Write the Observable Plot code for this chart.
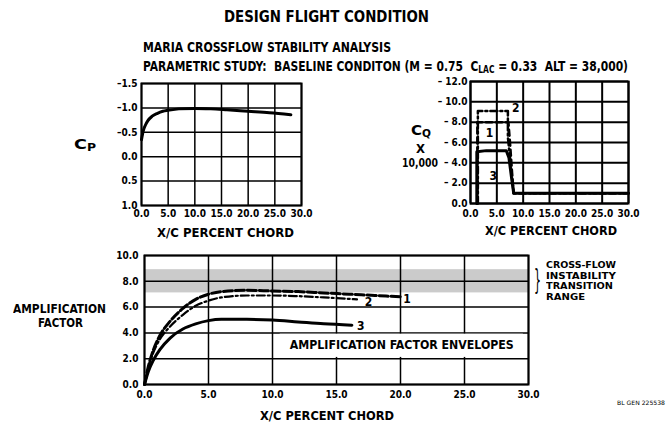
<!DOCTYPE html>
<html><head><meta charset="utf-8">
<script src="https://cdn.jsdelivr.net/npm/d3@7"></script>
<script src="https://cdn.jsdelivr.net/npm/@observablehq/plot@0.6"></script>
<style>
body{margin:0;background:#fff;}
#wrap{position:relative;width:667px;height:428px;overflow:hidden;background:#fff;color:#000;
 font-family:"Liberation Sans Narrow","DejaVu Sans Condensed","Liberation Sans",Arial,sans-serif;font-weight:bold;}
.t{position:absolute;white-space:nowrap;line-height:1;transform-origin:0 50%;}
.t sub{font-size:70%;vertical-align:-0.25em;line-height:0;}
.p{position:absolute;}
</style></head><body><div id="wrap"></div>
<script>
// ---------- data ----------
const xTicks = [0, 5, 10, 15, 20, 25, 30];
const cpTicks = [-1.5, -1.0, -0.5, 0.0, 0.5, 1.0];
const cqTicks = [-12, -10, -8, -6, -4, -2, 0];
const ampTicks = [0, 2, 4, 6, 8, 10];

// Cp distribution
const cpX = [0, 0.3, 0.7, 1.2, 2, 3, 4, 5, 7, 10, 13, 16, 20, 24, 28];
const cpY = [-0.35, -0.52, -0.64, -0.74, -0.83, -0.89, -0.93, -0.95, -0.98, -0.99, -0.98, -0.96, -0.93, -0.9, -0.86];

// Suction CQ x 10,000 (step distributions)
const cq1X = [1.3, 1.3, 7.2, 7.5, 7.9, 8.2, 30];
const cq1Y = [0, -8.0, -8.0, -6.0, -3.0, -1.0, -1.0];
const cq2X = [1.4, 1.4, 7.1, 7.1, 7.6, 8.2, 30];
const cq2Y = [0, -9.1, -9.1, -6.5, -4.0, -1.0, -1.0];
const cq3X = [1.2, 1.2, 3.0, 6.8, 7.3, 7.8, 8.2, 30];
const cq3Y = [0, -5.1, -5.2, -5.2, -4.5, -2.5, -1.0, -1.0];
const cqLabels = [{x: 8.6, y: -9.4, t: "2"}, {x: 3.6, y: -6.9, t: "1"}, {x: 4.3, y: -2.7, t: "3"}];

// Amplification factor envelopes
const amp1X = [0, 0.3, 0.7, 1.2, 2, 3, 4, 5, 6, 8, 10, 12, 14, 16, 18, 20];
const amp1Y = [0, 1.4, 2.7, 3.8, 4.9, 5.9, 6.6, 7.0, 7.2, 7.3, 7.25, 7.2, 7.1, 7.0, 6.9, 6.8];
const amp2X = [0, 0.3, 0.7, 1.2, 2, 3, 4, 5, 6, 8, 10, 12, 14, 16.6];
const amp2Y = [0, 1.3, 2.5, 3.5, 4.5, 5.4, 6.1, 6.5, 6.75, 6.9, 6.9, 6.85, 6.75, 6.6];
const amp3X = [0, 0.3, 0.7, 1.2, 2, 3, 4, 5, 6, 8, 10, 12, 14, 16.2];
const amp3Y = [0, 1.0, 1.9, 2.7, 3.6, 4.3, 4.7, 4.95, 5.05, 5.05, 5.0, 4.85, 4.7, 4.6];
const ampLabels = [{x: 20.5, y: 6.6, t: "1"}, {x: 17.5, y: 6.4, t: "2"}, {x: 16.9, y: 4.5, t: "3"}];
const band = [{x1: 0, x2: 30, y1: 7.1, y2: 8.9}];

// ---------- helpers ----------
const FONT = '"Liberation Sans Narrow","DejaVu Sans Condensed","Liberation Sans",Arial,sans-serif';
const zip = (xs, ys) => xs.map((x, i) => ({x, y: ys[i]}));
const fx = d => d.toFixed(1);
const fneg = d => d < 0 ? "\u2013" + Math.abs(d).toFixed(1) : d.toFixed(1);
const fneg2 = d => d < 0 ? "\u2013 " + Math.abs(d).toFixed(1) : d.toFixed(1);
const style = {fontFamily: FONT, fontWeight: "bold", fontSize: "10px", background: "transparent", color: "black", overflow: "visible"};
const wrap = document.getElementById("wrap");
function place(svg, left, top) { svg.classList.add("p"); svg.style.left = left + "px"; svg.style.top = top + "px"; wrap.appendChild(svg); }
function text(html, left, cy, fs, w, extra) {
  const d = document.createElement("div"); d.className = "t"; d.innerHTML = html;
  d.style.left = left + "px"; d.style.top = (cy - 0.48 * fs) + "px"; d.style.fontSize = fs + "px";
  if (extra) Object.assign(d.style, extra);
  if (w) d.dataset.w = w; wrap.appendChild(d); return d;
}
const grid = {stroke: "black", strokeOpacity: 1, strokeWidth: 1.5};

// ---------- panel 1: Cp ----------
place(Plot.plot({
  width: 310, height: 160, marginLeft: 141, marginRight: 9, marginTop: 13, marginBottom: 25, style,
  x: {domain: [0, 30], ticks: xTicks, tickFormat: fx, tickSize: 0, tickPadding: 4, label: null},
  y: {domain: [1.0, -1.5], ticks: cpTicks, tickFormat: fneg, tickSize: 0, tickPadding: 4, label: null},
  marks: [
    Plot.ruleX(xTicks, grid),
    Plot.ruleY(cpTicks, grid),
    Plot.line(zip(cpX, cpY), {x: "x", y: "y", stroke: "black", strokeWidth: 3, curve: "monotone-x"}),
    Plot.frame({stroke: "black", strokeWidth: 2})
  ]
}), 0, 70);

// ---------- panel 2: CQ ----------
place(Plot.plot({
  width: 337, height: 160, marginLeft: 140, marginRight: 39, marginTop: 11, marginBottom: 27, style,
  x: {domain: [0, 30], ticks: xTicks, tickFormat: fx, tickSize: 0, tickPadding: 6, label: null},
  y: {domain: [0, -12], ticks: cqTicks, tickFormat: fneg2, tickSize: 0, tickPadding: 3, label: null},
  marks: [
    Plot.ruleX(xTicks, {...grid, strokeWidth: 2}),
    Plot.ruleY(cqTicks, {...grid, strokeWidth: 2}),
    Plot.line(zip(cq2X, cq2Y), {x: "x", y: "y", stroke: "black", strokeWidth: 2.5, strokeDasharray: "7,3,2,3"}),
    Plot.line(zip(cq1X, cq1Y), {x: "x", y: "y", stroke: "black", strokeWidth: 2.5, strokeDasharray: "6,4"}),
    Plot.line(zip(cq3X, cq3Y), {x: "x", y: "y", stroke: "black", strokeWidth: 3}),
    Plot.text(cqLabels, {x: "x", y: "y", text: "t", fontSize: 12, fontWeight: "bold", fill: "black"}),
    Plot.frame({stroke: "black", strokeWidth: 2})
  ]
}), 330, 70);

// ---------- panel 3: amplification factor ----------
const amp = Plot.plot({
  width: 560, height: 160, marginLeft: 144, marginRight: 32, marginTop: 10, marginBottom: 21, style,
  x: {domain: [0, 30], ticks: xTicks, tickFormat: fx, tickSize: 0, tickPadding: 6, label: null},
  y: {domain: [0, 10], ticks: ampTicks, tickFormat: fx, tickSize: 0, tickPadding: 6, label: null},
  marks: [
    Plot.rect(band, {x1: "x1", x2: "x2", y1: "y1", y2: "y2", fill: "#cbcbcb"}),
    Plot.ruleX(xTicks, grid),
    Plot.ruleY(ampTicks, grid),
    Plot.line(zip(amp3X, amp3Y), {x: "x", y: "y", stroke: "black", strokeWidth: 3, curve: "monotone-x"}),
    Plot.line(zip(amp2X, amp2Y), {x: "x", y: "y", stroke: "black", strokeWidth: 2.2, strokeDasharray: "8,3,2,3", curve: "monotone-x"}),
    Plot.line(zip(amp1X, amp1Y), {x: "x", y: "y", stroke: "black", strokeWidth: 3, strokeDasharray: "9,3", curve: "monotone-x"}),
    Plot.text(ampLabels, {x: "x", y: "y", text: "t", fontSize: 12, fontWeight: "bold", fill: "black"}),
    Plot.rect([{x1: 10.6, x2: 29.6, y1: 2.1, y2: 3.9}], {x1: "x1", x2: "x2", y1: "y1", y2: "y2", fill: "white"}),
    Plot.text(["AMPLIFICATION FACTOR ENVELOPES"], {x: 20.1, y: 3.1, text: d => d, fontSize: 13, fontWeight: "bold", fill: "black"}),
    Plot.frame({stroke: "black", strokeWidth: 2})
  ]
});
amp.querySelectorAll("text").forEach(t => {
  if (t.textContent === "AMPLIFICATION FACTOR ENVELOPES") { t.setAttribute("textLength", 224); t.setAttribute("lengthAdjust", "spacingAndGlyphs"); }
});
place(amp, 0, 245);

// ---------- titles and labels ----------
text("DESIGN FLIGHT CONDITION", 224, 17, 16, 205);
text("MARIA CROSSFLOW STABILITY ANALYSIS", 143, 47, 14, 248);
text("PARAMETRIC STUDY:&nbsp; BASELINE CONDITON (M = 0.75&nbsp; C<sub>LAC</sub> = 0.33&nbsp; ALT = 38,000)", 143, 66, 14, 485);
text("C<sub>P</sub>", 74, 144, 14, 22);
text("C<sub>Q</sub>", 411, 130, 14, 20);
text("X", 416, 148, 13, 9);
text("10,000", 402, 162, 13, 36);
text("X/C PERCENT CHORD", 157, 232, 13, 137);
text("X/C PERCENT CHORD", 485, 230, 13, 132);
text("X/C PERCENT CHORD", 260, 415, 13, 134);
text("AMPLIFICATION", 13, 308, 13, 93);
text("FACTOR", 38, 322, 13, 45);
text("CROSS-FLOW", 546, 265, 9.5, 70);
text("INSTABILITY", 546, 275.5, 9.5, 70);
text("TRANSITION", 546, 286, 9.5, 67);
text("RANGE", 546, 296.5, 9.5, 39);
text("}", 534, 280, 28, 7, {fontWeight: "normal"});
text("BL GEN 225538", 617, 403, 6, 48, {fontWeight: "normal"});

function fit() {
  wrap.querySelectorAll(".t[data-w]").forEach(el => {
    el.style.transform = "none";
    const w = el.getBoundingClientRect().width;
    if (w > 0) el.style.transform = "scaleX(" + (+el.dataset.w / w) + ")";
  });
}
fit();
if (document.fonts && document.fonts.ready) document.fonts.ready.then(fit);
</script>
</body></html>
